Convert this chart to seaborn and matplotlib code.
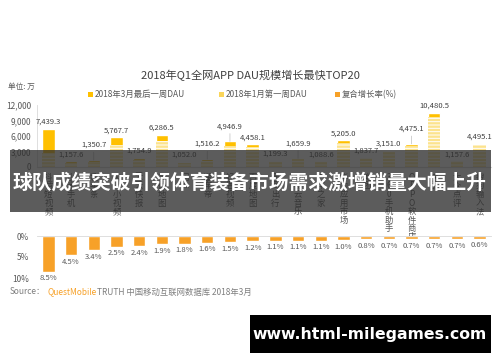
import matplotlib
matplotlib.use('Agg')
import matplotlib.pyplot as plt
from matplotlib.patches import Rectangle
import seaborn as sns
import pandas as pd

# categories and values (unit: 万)
apps = ['抖音短视频', '小米手机', '趣头条', '火山小视频', '天天快报', '高德地图', '闲鱼',
        '懂车帝', '好看视频', '百度地图', '滴滴出行', '网易云音乐', '汽车之家', '华为应用市场',
        '美团', '360手机助手', 'OPPO软件商店', '快手', '大众点评', '搜狗输入法']
dau_mar = [7439.3, 1157.6, 1350.7, 5767.7, 1754.9, 6286.5, 1052.0, 1516.2, 4946.9, 4458.1,
           1199.3, 1659.9, 1088.6, 5205.0, 1837.7, 3151.0, 4475.1, 10480.5, 1157.6, 4495.1]
dau_jan = [2795, 683, 904, 4288, 1320, 5017, 849, 1253, 4137, 3863,
           1052, 1456, 955, 4619, 1671, 2899, 4117, 9642, 1065, 4184]
growth = [8.5, 4.5, 3.4, 2.5, 2.4, 1.9, 1.8, 1.6, 1.5, 1.2,
          1.1, 1.1, 1.1, 1.0, 0.8, 0.7, 0.7, 0.7, 0.7, 0.6]
yticks_top = [0, 3000, 6000, 9000, 12000]
yticks_bot = [0, 5, 10]

GOLD = '#FFC000'
LIGHT = '#FCE38E'
ORANGE = '#F7A128'
GRAY = '#595959'

sns.set_style('white')
plt.rcParams['font.family'] = ['Noto Sans CJK SC', 'DejaVu Sans']
plt.rcParams['hatch.linewidth'] = 0.7

W, H = 500, 362
def fx(x):
    return x / W
def fy(y):
    return 1 - y / H

df = pd.DataFrame({'app': apps, 'mar': dau_mar, 'jan': dau_jan, 'growth': growth})

fig = plt.figure(figsize=(5, 3.62), dpi=100)
ax1 = fig.add_axes([fx(37), fy(167), fx(491) - fx(37), fy(105) - fy(167)])
ax2 = fig.add_axes([fx(37), fy(278), fx(491) - fx(37), fy(236) - fy(278)])

# top panel: March bar behind, January bar (striped) in front
sns.barplot(data=df, x='app', y='mar', color=GOLD, width=0.55, saturation=1,
            errorbar=None, ax=ax1)
sns.barplot(data=df, x='app', y='jan', color=LIGHT, width=0.55, saturation=1,
            errorbar=None, ax=ax1)
for p in ax1.patches[len(apps):]:
    p.set_hatch('-----')
    p.set_edgecolor('white')
    p.set_linewidth(0)

lifted = {2, 7, 8, 11, 16}
for i, v in enumerate(dau_mar):
    if i in lifted:
        ax1.annotate(f'{v:,.1f}', (i, v), xytext=(0, 8), textcoords='offset points',
                     ha='center', va='bottom', fontsize=5.5, color='#404040',
                     annotation_clip=False,
                     arrowprops=dict(arrowstyle='-', color='#BFBFBF', lw=0.5,
                                     shrinkA=0, shrinkB=0))
    else:
        ax1.annotate(f'{v:,.1f}', (i, v), xytext=(0, 2), textcoords='offset points',
                     ha='center', va='bottom', fontsize=5.5, color='#404040',
                     annotation_clip=False)

ax1.set_xlim(-0.5, len(apps) - 0.5)
ax1.set_ylim(0, 12000)
ax1.set_yticks(yticks_top)
ax1.set_yticklabels([f'{t:,}' for t in yticks_top], fontsize=6, color=GRAY)
ax1.set_xticks(range(len(apps)))
ax1.set_xticklabels(['\n'.join(a) if not a[0].isascii() else '\n'.join(a) for a in apps],
                    fontsize=6, color=GRAY, linespacing=0.95, va='top')
ax1.tick_params(axis='both', length=0, pad=4)
ax1.set_xlabel('')
ax1.set_ylabel('')
for s in ['top', 'right']:
    ax1.spines[s].set_visible(False)
ax1.spines['left'].set_color('#D9D9D9')
ax1.spines['bottom'].set_color('#D9D9D9')
ax1.spines['left'].set_linewidth(0.6)

# bottom panel: compound growth rate hanging down
sns.barplot(data=df, x='app', y='growth', color=ORANGE, width=0.55, saturation=1,
            errorbar=None, ax=ax2)
for i, g in enumerate(growth):
    ax2.annotate(f'{g:.1f}%', (i, g), xytext=(0, -2), textcoords='offset points',
                 ha='center', va='top', fontsize=5.5, color=GRAY, annotation_clip=False)
ax2.set_xlim(-0.5, len(apps) - 0.5)
ax2.set_ylim(10, 0)
ax2.set_yticks(yticks_bot)
ax2.set_yticklabels([f'{t}%' for t in yticks_bot], fontsize=6, color=GRAY)
ax2.set_xticks([])
ax2.tick_params(axis='both', length=0, pad=6)
ax2.set_xlabel('')
ax2.set_ylabel('')
for s in ['left', 'right', 'bottom']:
    ax2.spines[s].set_visible(False)
ax2.spines['top'].set_color('#D9D9D9')
ax2.spines['top'].set_linewidth(0.6)

# title, unit, legend
fig.text(0.5, fy(75), '2018年Q1全网APP DAU规模增长最快TOP20', ha='center', va='center',
         fontsize=8, color='#404040')
fig.text(fx(8), fy(87), '单位: 万', ha='left', va='center', fontsize=5.5, color=GRAY)
legend_items = [('2018年3月最后一周DAU', GOLD, 88), ('2018年1月第一周DAU', '#FAD55A', 219),
                ('复合增长率(%)', ORANGE, 335)]
for label, c, x0 in legend_items:
    fig.add_artist(Rectangle((fx(x0), fy(97)), fx(5), 5 / H, transform=fig.transFigure,
                             color=c, lw=0))
    fig.text(fx(x0 + 7), fy(94.5), label, ha='left', va='center', fontsize=6, color=GRAY)

# source line
fig.text(fx(10), fy(292), 'Source：', ha='left', va='center', fontsize=6, color='#7F7F7F')
fig.text(fx(48), fy(292), 'QuestMobile', ha='left', va='center', fontsize=6, color=ORANGE)
fig.text(fx(97), fy(292), 'TRUTH 中国移动互联网数据库 2018年3月', ha='left', va='center',
         fontsize=6, color='#7F7F7F')

# dark banner over the middle of the chart
fig.add_artist(Rectangle((fx(10), fy(212)), fx(491) - fx(10), (212 - 150) / H,
                         transform=fig.transFigure, color='#2E2E2E', alpha=0.78,
                         lw=0, zorder=10))
fig.text(fx(250), fy(183), '球队成绩突破引领体育装备市场需求激增销量大幅上升',
         ha='center', va='center', fontsize=14.2, fontweight='bold', color='white',
         zorder=11)

# watermark box
fig.add_artist(Rectangle((fx(250), fy(353)), fx(491) - fx(250), (353 - 315) / H,
                         transform=fig.transFigure, color='black', lw=0, zorder=10))
fig.text(fx(370), fy(334), 'www.html-milegames.com', ha='center', va='center',
         fontsize=11.3, fontweight='bold', color='white', family='DejaVu Sans', zorder=11)

fig.savefig('out.png', dpi=100)
